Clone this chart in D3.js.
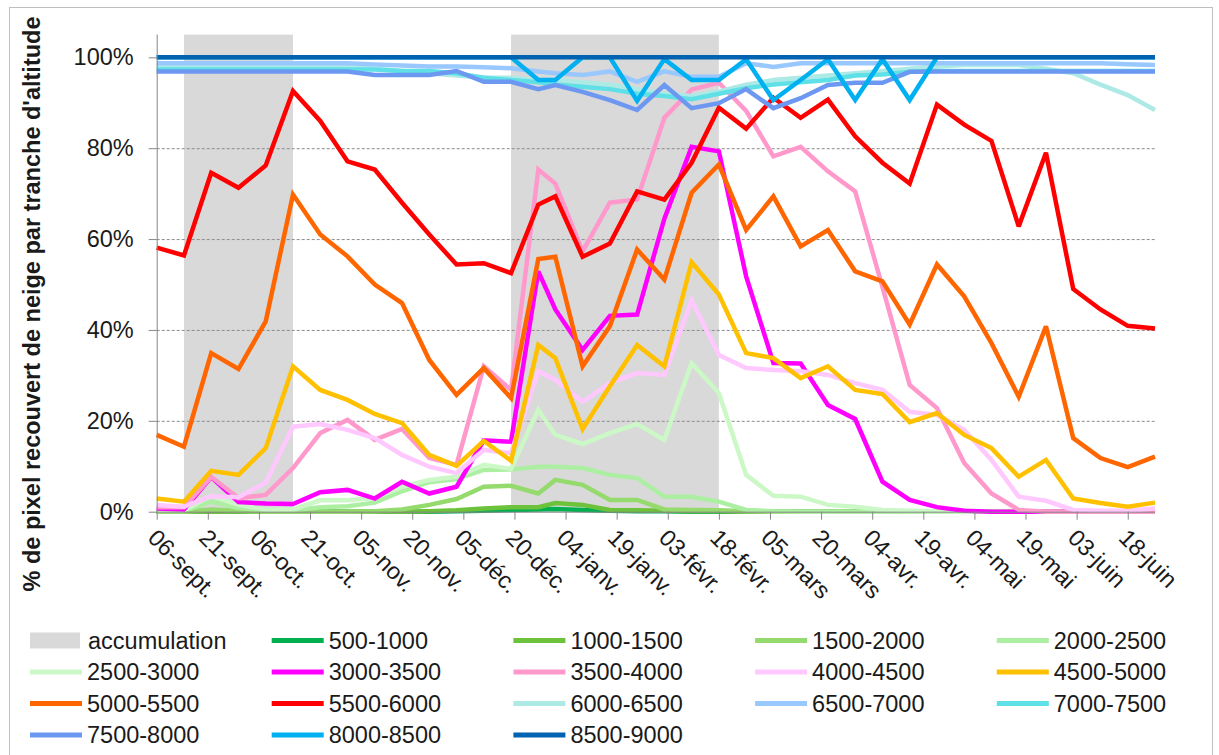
<!DOCTYPE html>
<html>
<head>
<meta charset="utf-8">
<script src="https://cdn.jsdelivr.net/npm/d3@7"></script>
<style>
  html, body { margin: 0; padding: 0; background: #fff; }
  svg { display: block; font-family: "Liberation Sans", Arial, sans-serif; }
</style>
</head>
<body>
<svg id="chart" width="1219" height="755"></svg>
<script>
// ---------------- DATA ----------------
const dates = ["2010-09-06","2010-09-14","2010-09-22","2010-09-30","2010-10-08","2010-10-16","2010-10-24","2010-11-01","2010-11-09","2010-11-17","2010-11-25","2010-12-03","2010-12-11","2010-12-19","2010-12-27","2011-01-01","2011-01-09","2011-01-17","2011-01-25","2011-02-02","2011-02-10","2011-02-18","2011-02-26","2011-03-06","2011-03-14","2011-03-22","2011-03-30","2011-04-07","2011-04-15","2011-04-23","2011-05-01","2011-05-09","2011-05-17","2011-05-25","2011-06-02","2011-06-10","2011-06-18","2011-06-26"];

const tickDates = ["2010-09-06","2010-09-21","2010-10-06","2010-10-21","2010-11-05","2010-11-20","2010-12-05","2010-12-20","2011-01-04","2011-01-19","2011-02-03","2011-02-18","2011-03-05","2011-03-20","2011-04-04","2011-04-19","2011-05-04","2011-05-19","2011-06-03","2011-06-18"];
const tickLabels = ["06-sept.","21-sept.","06-oct.","21-oct.","05-nov.","20-nov.","05-déc.","20-déc.","04-janv.","19-janv.","03-févr.","18-févr.","05-mars","20-mars","04-avr.","19-avr.","04-mai","19-mai","03-juin","18-juin"];

const yTicks = [0, 20, 40, 60, 80, 100];

// accumulation periods (start, end)
const accumulation = [["2010-09-14","2010-10-16"],["2010-12-19","2011-02-18"]];

const seriesNames = ["500-1000","1000-1500","1500-2000","2000-2500","2500-3000","3000-3500","3500-4000","4000-4500","4500-5000","5000-5500","5500-6000","6000-6500","6500-7000","7000-7500","7500-8000","8000-8500","8500-9000"];

const s500_1000  = [0,0,0,0,0,0,0,0,0,0,0,0.1,0.2,0.4,0.5,0.6,0.4,0.2,0.1,0.1,0,0,0,0,0,0,0,0,0,0,0,0,0,0,0,0,0,0];
const s1000_1500 = [0,0,0,0,0,0,0,0,0,0,0.1,0.3,0.7,1,1,1.9,1.5,0.4,0.3,0.2,0.1,0.1,0,0,0,0,0,0,0,0,0,0,0,0,0,0,0,0];
const s1500_2000 = [0,0,0.5,0.2,0,0,0,0,0.1,0.5,1.5,2.8,5.5,5.7,4,7,5.9,2.6,2.6,0.5,0.4,0.3,0.1,0,0,0,0,0,0,0,0,0,0,0,0,0,0,0];
const s2000_2500 = [0.2,0.2,2.2,0.8,0.3,0.3,1,1.2,2,4.5,6.5,7.2,9.2,9.3,9.9,9.9,9.6,8.1,7.4,3.3,3.3,2.2,0.4,0.1,0,0,0,0,0,0,0,0,0,0,0,0,0,0];
const s2500_3000 = [0.3,0.3,3.5,1.5,0.5,0.5,2.5,2.5,3,5.5,7,7.7,10.3,9.4,22.4,16.9,14.9,17.3,19.3,15.8,32.7,26.1,8.1,3.5,3.3,1.5,1.1,0.4,0.2,0.1,0,0,0,0,0,0,0,0];
const s3000_3500 = [0.7,0.5,7.6,2.1,1.8,1.7,4.3,4.8,2.9,6.6,4,5.5,15.7,15.4,52.9,44.5,35.6,43.1,43.4,64.5,80.3,79.3,51.8,32.7,32.6,23.5,20.4,6.6,2.6,1,0.2,0,0,0,0,0,0,0.3];
const s3500_4000 = [1,1,7.7,3,3.7,9.6,17.3,20.2,15.8,18.2,11.8,10.3,32,26.8,75.3,72.2,57.3,68,68.7,86.7,92.9,94.4,88.2,78.2,80.3,74.9,70.5,49.5,27.9,22.8,10.7,4,0.4,0,0,0,0,0];
const s4000_4500 = [1.5,1.1,3.4,3.2,6.4,18.7,19.3,18,16.2,12.5,9.9,8.5,13.6,12.9,30.9,29,24.2,28.3,30.5,30.1,46.5,34.5,31.6,31.2,30.9,30.1,28.3,26.8,22,21.3,18,11.4,3.3,2.4,0.4,0.2,0.2,0.7];
const s4500_5000 = [2.9,2.2,9,8.1,14,32,26.8,24.6,21.5,19.5,12.5,10.1,15.6,11.2,36.7,33.8,18.2,27.6,36.7,32,54.9,47.8,34.9,33.8,29.4,32,26.8,25.9,19.7,21.7,16.9,14,7.7,11.4,2.9,1.9,1.1,2];
const s5000_5500 = [16.9,14.3,34.9,31.4,41.9,69.8,61,56.2,50,45.9,33.4,25.7,31.6,25,55.6,56.1,32,40.8,57.7,51.1,70.2,76.4,62,69.4,58.4,62,52.9,50.7,41.2,54.4,47.4,37.1,25.3,40.8,16.2,11.8,9.8,12.1];
const s5500_6000 = [58.1,56.4,74.6,71.3,76.2,92.6,86,77.1,75.3,68,61,54.4,54.7,52.5,67.6,69.4,56.1,59,70.5,68.7,76.8,88.9,84.3,91.1,86.7,90.7,82.6,76.8,72.2,89.6,85.2,81.6,62.8,79,49,44.5,40.9,40.3];
const s6000_6500 = [98,98,98,98,98,98,98,97.8,97.5,97,96.5,96,95.5,95.5,95,95,94.5,94,93,92,91.5,92.5,94,95,95.5,96,96.5,97,97.5,98,98.3,98.3,98.3,97.5,96.5,94,91.7,88.4];
const s6500_7000 = [98.7,98.7,98.7,98.7,98.7,98.7,98.7,98.7,98.4,98.2,98,98,97.8,97.6,96.9,96.5,96.1,96.9,94.6,96.9,95.7,95.7,98.7,97.9,98.7,98.7,98.7,98.7,98.7,98.7,98.7,98.7,98.7,98.7,98.7,98.7,98.5,98.3];
const s7000_7500 = [97.3,97.3,97.3,97.3,97.3,97.3,97.3,97.3,97.3,97,97,96.5,95.5,95,94.5,94,93.5,93,92,91.5,90.8,92,93.2,94,94.5,95,96,96.2,96.8,97,97,97,97,97,97,97,97,97];
const s7500_8000 = [96.9,96.9,96.9,96.9,96.9,96.9,96.9,96.9,96.1,96.1,96.1,97,94.6,94.6,93,93.9,92.4,90.6,88.4,93.9,88.8,89.9,93,88.8,91,93.9,94.4,94.4,96.8,96.9,96.9,96.9,96.9,96.9,96.9,96.9,96.9,96.9];
const s8000_8500 = [100,100,100,100,100,100,100,100,100,100,100,100,100,100,95,95,100,100,90.4,99.6,95,95,99.6,90.6,95,99.6,90.6,99.6,90.6,100,100,100,100,100,100,100,100,100];
const s8500_9000 = [100,100,100,100,100,100,100,100,100,100,100,100,100,100,100,100,100,100,100,100,100,100,100,100,100,100,100,100,100,100,100,100,100,100,100,100,100,100];

const seriesValues = [s500_1000,s1000_1500,s1500_2000,s2000_2500,s2500_3000,s3000_3500,s3500_4000,s4000_4500,s4500_5000,s5000_5500,s5500_6000,s6000_6500,s6500_7000,s7000_7500,s7500_8000,s8000_8500,s8500_9000];
const seriesColors = ["#00B050","#6CC23A","#95DA6C","#ADEFA2","#CBF8C6","#FF00FF","#FF99CC","#FFC8FF","#FFC000","#FF6600","#FF0000","#ADEAE6","#99C8FF","#5EE0E6","#6C98F2","#00B0F0","#0063B1"];
const accColor = "#D9D9D9";

(function () {
// ---------------- LAYOUT ----------------
const parse = d3.utcParse("%Y-%m-%d");
const svg = d3.select("#chart");
const pLeft = 156.7, pRight = 1155, pTop = 34.6, pBottom = 511.7;

const x = d3.scaleUtc().domain([parse(dates[0]), parse(dates[dates.length - 1])]).range([pLeft, pRight]);
const y = d3.scaleLinear().domain([0, 105]).range([pBottom, pTop]);

// outer border
svg.append("rect").attr("x", 9.5).attr("y", 7.5).attr("width", 1203).attr("height", 770)
  .attr("fill", "none").attr("stroke", "#BFBFBF").attr("stroke-width", 1);

// accumulation bands
svg.append("g").selectAll("rect").data(accumulation).join("rect")
  .attr("x", d => x(parse(d[0])))
  .attr("width", d => x(parse(d[1])) - x(parse(d[0])))
  .attr("y", y(105)).attr("height", y(0) - y(105))
  .attr("fill", accColor);

// gridlines
const grid = svg.append("g").attr("transform", `translate(${pLeft},0)`)
  .call(d3.axisLeft(y).tickValues(yTicks.filter(v => v > 0)).tickSize(-(pRight - pLeft)).tickFormat(""));
grid.select(".domain").remove();
grid.selectAll("line").attr("stroke", "#8C8C8C").attr("stroke-width", 1).attr("stroke-dasharray", "3,2");

// series lines
const line = d3.line().x((d, i) => x(parse(dates[i]))).y(d => y(d));
svg.append("g").selectAll("path").data(seriesValues).join("path")
  .attr("d", d => line(d))
  .attr("fill", "none")
  .attr("stroke", (d, i) => seriesColors[i])
  .attr("stroke-width", 4.5)
  .attr("stroke-linejoin", "miter")
  .attr("stroke-miterlimit", 3);

// y axis
const yAxis = svg.append("g").attr("transform", `translate(${pLeft},0)`)
  .call(d3.axisLeft(y).tickValues(yTicks).tickFormat(d => d + "%").tickSize(8).tickPadding(15));
yAxis.select(".domain").attr("d", `M0.5,${pTop}V${pBottom}`).attr("stroke", "#868686");
yAxis.selectAll("line").attr("stroke", "#868686");
yAxis.selectAll("text").attr("font-size", 23.5).attr("fill", "#1a1a1a")
  .attr("font-family", "'Liberation Sans', Arial, sans-serif");

// x axis
const xAxis = svg.append("g").attr("transform", `translate(0,${pBottom})`)
  .call(d3.axisBottom(x).tickValues(tickDates.map(parse)).tickFormat((d, i) => tickLabels[i]).tickSize(8));
xAxis.select(".domain").attr("d", `M${pLeft},0.5H${pRight}`).attr("stroke", "#868686");
xAxis.selectAll("line").attr("stroke", "#868686");
xAxis.selectAll("text")
  .attr("font-size", 23.5).attr("fill", "#1a1a1a")
  .attr("font-family", "'Liberation Sans', Arial, sans-serif")
  .attr("text-anchor", "start")
  .attr("dy", null)
  .attr("y", 0)
  .attr("dominant-baseline", "central")
  .attr("transform", "translate(-5,22) rotate(45)");

// y title
svg.append("text")
  .attr("transform", "translate(40,304) rotate(-90)")
  .attr("text-anchor", "middle")
  .attr("font-size", 23.5).attr("font-weight", "bold").attr("fill", "#1a1a1a")
  .text("% de pixel recouvert de neige par tranche d'altitude");

// legend
const legendItems = [{name: "accumulation", color: accColor, box: true}]
  .concat(seriesNames.map((n, i) => ({name: n, color: seriesColors[i], box: false})));
const lg = svg.append("g").selectAll("g").data(legendItems).join("g")
  .attr("transform", (d, i) => `translate(${30 + (i % 5) * 241.7},${640.5 + Math.floor(i / 5) * 31.5})`);
lg.filter(d => d.box).append("rect").attr("x", 0).attr("y", -8).attr("width", 50).attr("height", 16).attr("fill", d => d.color);
lg.filter(d => !d.box).append("line").attr("x1", 0).attr("x2", 52).attr("y1", 0).attr("y2", 0)
  .attr("stroke", d => d.color).attr("stroke-width", 5);
lg.append("text").attr("x", d => d.box ? 58 : 57).attr("y", 0).attr("dominant-baseline", "central")
  .attr("font-size", 23.5).attr("fill", "#1a1a1a").text(d => d.name);
})();
</script>
</body>
</html>
